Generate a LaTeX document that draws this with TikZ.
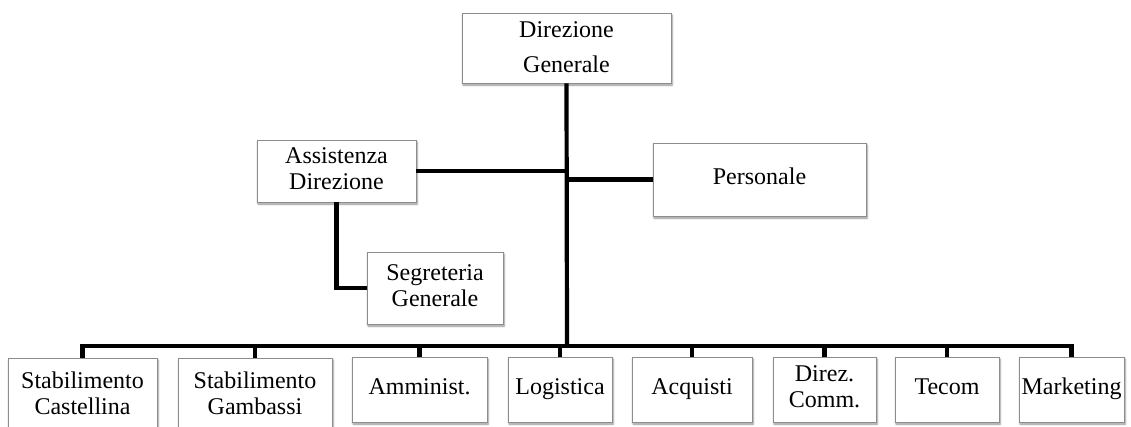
\documentclass[tikz,border=0pt]{standalone}
\usepackage{fontspec}
\setmainfont{Liberation Serif}
\usetikzlibrary{shadows.blur}
\definecolor{boxgray}{RGB}{140,140,140}
\tikzset{
  unit/.style={draw=boxgray, line width=0.9pt, fill=white, align=center,
    inner sep=0pt, font=\fontsize{24}{26}\selectfont,
    blur shadow={shadow xshift=1pt, shadow yshift=-2pt, shadow blur radius=2pt,
      shadow blur steps=6, shadow opacity=45}},
  conn/.style={line width=4.2pt, black},
}
\begin{document}
\begin{tikzpicture}[x=1pt, y=-1pt]
  \useasboundingbox (0,0) rectangle (1131,426);
  \clip (0,0) rectangle (1131,426);

  % top level
  \node[unit, minimum width=209pt, minimum height=70pt, font=\fontsize{24}{35}\selectfont]
    (dg) at (566.5,48) {\strut Direzione\\\strut Generale};
  \node[unit, minimum width=159pt, minimum height=62pt] (ad) at (336.5,171) {\strut Assistenza\\\strut Direzione};
  \node[unit, minimum width=213pt, minimum height=73pt] (pe) at (759.5,179.5) {\raisebox{-2.5pt}{\strut Personale}};
  \node[unit, minimum width=136pt, minimum height=72pt] (sg) at (435,288) {\strut Segreteria\\\strut Generale};

  % departments
  \node[unit, minimum width=149pt, minimum height=76pt] (sc) at (82.5,396) {\strut Stabilimento\\\strut Castellina};
  \node[unit, minimum width=154pt, minimum height=76pt] (sb) at (255,396) {\strut Stabilimento\\\strut Gambassi};
  \node[unit, minimum width=135pt, minimum height=65pt] (am) at (419.5,389.5) {\strut Amminist.};
  \node[unit, minimum width=104pt, minimum height=65pt] (lo) at (560,389.5) {\strut Logistica};
  \node[unit, minimum width=120pt, minimum height=65pt] (ac) at (692,389.5) {\strut Acquisti};
  \node[unit, minimum width=103pt, minimum height=65pt] (dc) at (824.5,389.5) {\strut Direz.\\\strut Comm.};
  \node[unit, minimum width=104pt, minimum height=65pt] (te) at (947,389.5) {\strut Tecom};
  \node[unit, minimum width=105pt, minimum height=65pt] (ma) at (1071.5,389.5) {\strut Marketing};

  \coordinate (bus) at (567,346);

  % connectors
  \draw[conn] (dg.south) -- (bus);
  \draw[conn] (ad.east) -- (ad.east -| dg.south);
  \draw[conn] (pe.west) -- (pe.west -| dg.south);
  \draw[conn] (ad.south) |- (sg.west);
  \draw[conn] (sc.north) |- (bus) -| (ma.north);
  \foreach \n in {sb,am,lo,ac,dc,te}
    \draw[conn] (\n.north) -- (\n.north |- bus);
\end{tikzpicture}
\end{document}
